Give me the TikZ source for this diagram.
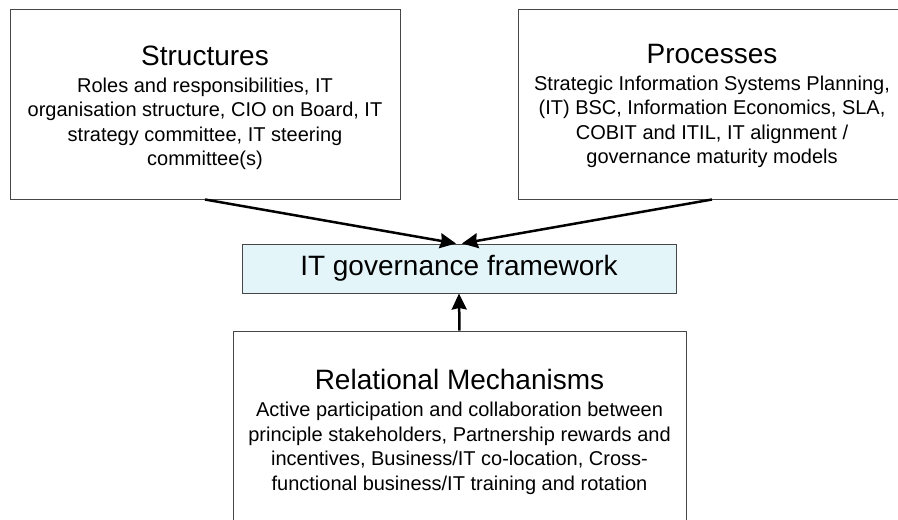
\documentclass[tikz,border=0pt]{standalone}
\usepackage{fontspec}
\setmainfont{Liberation Sans}
\usetikzlibrary{arrows.meta}
\definecolor{boxline}{RGB}{70,70,70}
\definecolor{fwfill}{RGB}{228,245,250}
\begin{document}
\begin{tikzpicture}[x=1pt,y=-1pt,
  box/.style={draw=boxline, line width=1pt, inner sep=0pt},
  txt/.style={align=center, inner sep=0pt, font=\fontsize{20}{24.5}\selectfont},
  conn/.style={line width=2.5pt, -{Stealth[length=16pt,width=15pt,inset=1.5pt]}}]
\useasboundingbox (0,0) rectangle (898,520);
% boxes
\node[box, minimum width=390, minimum height=190] (S) at (205,104) {};
\node[box, minimum width=388, minimum height=190] (P) at (712,104) {};
\node[box, fill=fwfill, minimum width=434, minimum height=49] (F) at (459,268.5)
  {\fontsize{28}{28}\selectfont IT governance framework};
\node[box, minimum width=453, minimum height=200] (R) at (459.5,431) {};
% texts
\node[txt] (St) at (205,108) {{\fontsize{28}{28}\selectfont Structures}\\[2.5pt]
  Roles and responsibilities, IT\\
  organisation structure, CIO on Board, IT\\
  strategy committee, IT steering\\
  committee(s)};
\node[txt] (Pt) at (712,106) {{\fontsize{28}{28}\selectfont Processes}\\[2.5pt]
  Strategic Information Systems Planning,\\
  (IT) BSC, Information Economics, SLA,\\
  COBIT and ITIL, IT alignment /\\
  governance maturity models};
\node[txt] (Rt) at (459.5,432) {{\fontsize{28}{28}\selectfont Relational Mechanisms}\\[2.5pt]
  Active participation and collaboration between\\
  principle stakeholders, Partnership rewards and\\
  incentives, Business/IT co-location, Cross-\\
  functional business/IT training and rotation};
% connectors
\draw[conn] (S.south) -- ([xshift=-3pt]F.north);
\draw[conn] (P.south) -- ([xshift=3pt]F.north);
\draw[conn] (R.north) -- (F.south);
\end{tikzpicture}
\end{document}
